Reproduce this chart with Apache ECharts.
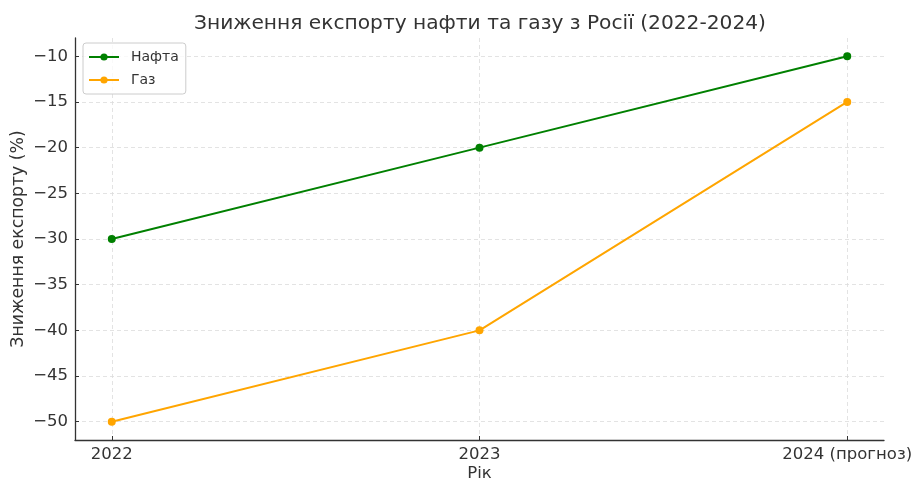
<!DOCTYPE html>
<html>
<head>
<meta charset="utf-8">
<script src="https://cdn.jsdelivr.net/npm/echarts@6/dist/echarts.min.js"></script>
<style>
  html, body { margin: 0; padding: 0; background: #fff; }
  #chart { width: 915px; height: 481px; }
</style>
</head>
<body>
<div id="chart"></div>
<script>
// роки (категорії) та значення зниження експорту, %
const years = ["2022", "2023", "2024 (прогноз)"]
const oilValues = [-30, -20, -10]
const gasValues = [-50, -40, -15]
const yTicks = [-50, -45, -40, -35, -30, -25, -20, -15, -10]
const xTicks = [0, 1, 2]

const textColor = "#333"
const font = "DejaVu Sans"

const minus = v => String(v).replace("-", "\u2212")

const chart = echarts.init(document.getElementById("chart"))

chart.setOption({
    animation: false,
    textStyle: { fontFamily: font },
    title: {
        text: "Зниження експорту нафти та газу з Росії (2022-2024)",
        left: 189,
        top: 9,
        textStyle: { fontFamily: font, fontSize: 20.2, fontWeight: "normal", color: textColor },
    },
    grid: { left: 75, right: 31, top: 38, bottom: 41, containLabel: false, outerBoundsMode: "none" },
    legend: {
        left: 83,
        top: 43,
        orient: "vertical",
        itemWidth: 30,
        itemHeight: 9,
        itemGap: 9,
        padding: [7, 7, 7, 5],
        borderColor: "#ccc",
        borderWidth: 1,
        borderRadius: 3,
        backgroundColor: "rgba(255,255,255,0.8)",
        textStyle: { fontFamily: font, fontSize: 14, color: textColor, padding: [0, 0, 0, 7] },
        data: ["Нафта", "Газ"],
    },
    xAxis: {
        type: "value",
        min: -0.1,
        max: 2.1,
        name: "Рік",
        nameLocation: "middle",
        nameGap: 25,
        nameMoveOverlap: false,
        nameTextStyle: { fontFamily: font, fontSize: 16.5, color: textColor },
        axisLine: { show: true, onZero: false, lineStyle: { color: textColor, width: 1.3 } },
        axisTick: { show: true, inside: true, length: 4, customValues: xTicks, lineStyle: { color: textColor } },
        axisLabel: {
            customValues: xTicks,
            margin: 6,
            fontFamily: font,
            fontSize: 16.5,
            color: textColor,
            formatter: v => years[Math.round(v)] || "",
        },
        splitLine: { show: true, lineStyle: { color: "#dcdcdc", type: [4, 3], width: 0.8 } },
    },
    yAxis: {
        type: "value",
        min: -52,
        max: -8,
        name: "Зниження експорту (%)",
        nameLocation: "middle",
        nameGap: 48,
        nameMoveOverlap: false,
        nameTextStyle: { fontFamily: font, fontSize: 17.3, color: textColor },
        axisLine: { show: true, onZero: false, lineStyle: { color: textColor, width: 1.3 } },
        axisTick: { show: true, inside: true, length: 4, customValues: yTicks, lineStyle: { color: textColor } },
        axisLabel: {
            customValues: yTicks,
            margin: 7,
            fontFamily: font,
            fontSize: 16.5,
            color: textColor,
            formatter: v => minus(v),
        },
        splitLine: { show: true, lineStyle: { color: "#dcdcdc", type: [4, 3], width: 0.8 } },
    },
    series: [
        {
            name: "Нафта",
            type: "line",
            data: oilValues.map((v, i) => [i, v]),
            symbol: "circle",
            symbolSize: 8,
            lineStyle: { color: "green", width: 2 },
            itemStyle: { color: "green" },
        },
        {
            name: "Газ",
            type: "line",
            data: gasValues.map((v, i) => [i, v]),
            symbol: "circle",
            symbolSize: 8,
            lineStyle: { color: "orange", width: 2 },
            itemStyle: { color: "orange" },
        },
    ],
})
</script>
</body>
</html>
